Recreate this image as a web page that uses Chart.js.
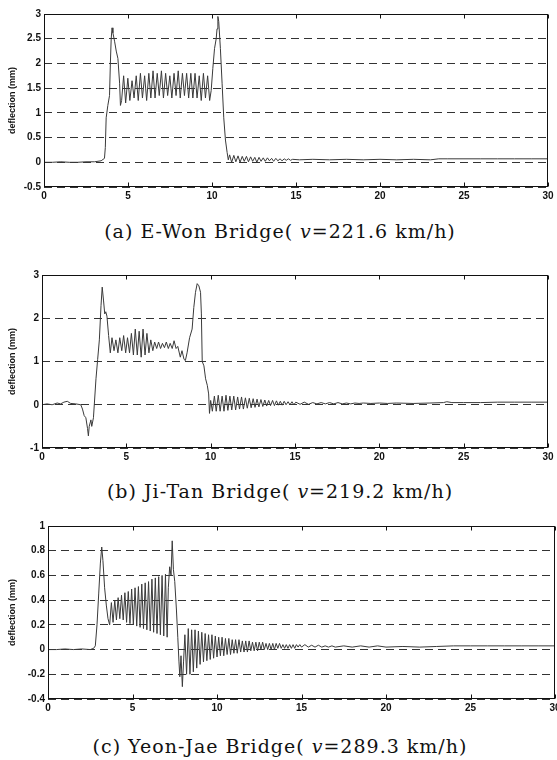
<!DOCTYPE html>
<html>
<head>
<meta charset="utf-8">
<script src="https://cdn.jsdelivr.net/npm/chart.js@4.4.1/dist/chart.umd.min.js"></script>
<style>
  html, body { margin: 0; padding: 0; background: #fff; }
  body { width: 557px; height: 760px; position: relative; overflow: hidden; }
  canvas { position: absolute; left: 0; }
  .caption {
    position: absolute; left: 0; width: 560px; text-align: center;
    font-family: "DejaVu Serif", serif; font-size: 19px; letter-spacing: 1px;
    line-height: 22px; color: #111;
  }
  .caption i { font-style: italic; }
</style>
</head>
<body>
<canvas id="chartA" width="557" height="205" style="top:0px"></canvas>
<canvas id="chartB" width="557" height="206" style="top:260px"></canvas>
<canvas id="chartC" width="570" height="207" style="top:510px"></canvas>
<div class="caption" id="capA" style="top:220px"></div>
<div class="caption" id="capB" style="top:480px"></div>
<div class="caption" id="capC" style="top:735px"></div>

<script>
// time axis (s) and deflection ticks (mm)
const xTicks = [0, 5, 10, 15, 20, 25, 30];
const yTicksA = [-0.5, 0, 0.5, 1, 1.5, 2, 2.5, 3];
const yTicksB = [-1, 0, 1, 2, 3];
const yTicksC = [-0.4, -0.2, 0, 0.2, 0.4, 0.6, 0.8, 1];

const captions = [
  ["(a) E-Won Bridge( ", "v", "=221.6 km/h)"],
  ["(b) Ji-Tan Bridge( ", "v", "=219.2 km/h)"],
  ["(c) Yeon-Jae Bridge( ", "v", "=289.3 km/h)"]
];

const eWonTrace = [
  [0,0],[0.5,0],[1,0.01],[1.5,0],[2,0],[2.5,0.01],[3,0.01],[3.4,0.03],[3.6,0.08],
  [3.65,0.3],[3.7,0.9],[3.8,1.15],[3.9,1.35],[3.95,2.0],[4.0,2.5],[4.05,2.72],[4.1,2.62],
  [4.2,2.45],[4.3,2.25],[4.4,2.1],[4.5,1.6],[4.55,1.15],
  [4.62,1.25],[4.74,1.75],[4.86,1.2],[4.99,1.7],[5.11,1.25],[5.24,1.65],[5.36,1.3],[5.49,1.75],
  [5.61,1.25],[5.74,1.8],[5.86,1.3],[5.99,1.75],[6.11,1.25],[6.24,1.8],[6.36,1.3],[6.49,1.85],
  [6.61,1.3],[6.74,1.8],[6.86,1.35],[6.99,1.85],[7.11,1.3],[7.24,1.8],[7.36,1.35],[7.49,1.75],
  [7.61,1.3],[7.74,1.8],[7.86,1.35],[7.99,1.85],[8.11,1.3],[8.24,1.8],[8.36,1.35],[8.49,1.8],
  [8.61,1.3],[8.74,1.8],[8.86,1.3],[8.99,1.8],[9.11,1.3],[9.24,1.75],[9.36,1.25],[9.49,1.8],
  [9.61,1.3],[9.74,1.75],[9.86,1.25],[9.95,1.45],
  [10.05,1.9],[10.15,2.3],[10.25,2.5],[10.3,2.7],[10.35,2.95],[10.4,2.85],[10.5,2.3],[10.6,1.6],
  [10.7,0.9],[10.8,0.45],[10.9,0.2],[10.97,0.05],
  [11.05,0.15],[11.17,0.0],[11.3,0.14],[11.42,0.01],[11.55,0.13],[11.67,0.0],[11.8,0.12],[11.92,0.02],
  [12.05,0.12],[12.17,0.01],[12.3,0.11],[12.42,0.02],[12.55,0.1],[12.67,0.0],[12.8,0.1],[12.92,0.02],
  [13.05,0.09],[13.17,0.02],[13.3,0.09],[13.42,0.03],[13.55,0.08],[13.67,0.02],[13.8,0.08],[13.92,0.03],
  [14.05,0.07],[14.17,0.03],[14.3,0.07],[14.42,0.04],[14.55,0.07],[14.67,0.04],[14.8,0.06],
  [15.2,0.05],[16,0.06],[17,0.05],[18,0.06],[19,0.05],[20,0.06],[21,0.05],[22,0.06],[23,0.05],
  [23.5,0.07],[24,0.07],[25,0.07],[26,0.07],[27,0.07],[28,0.07],[29,0.07],[30,0.07]
];

const jiTanTrace = [
  [0,0],[0.3,0.02],[0.6,0.0],[0.9,0.04],[1.1,0.02],[1.3,0.06],[1.5,0.08],[1.7,0.03],[2.0,0.02],
  [2.3,0.0],[2.4,-0.1],[2.5,-0.25],[2.6,-0.3],[2.7,-0.55],[2.75,-0.72],[2.8,-0.5],[2.9,-0.35],
  [2.95,-0.5],[3.05,-0.3],[3.1,0.0],[3.2,0.6],[3.3,1.05],[3.4,1.5],[3.5,2.3],[3.57,2.72],
  [3.65,2.4],[3.72,2.1],[3.78,2.15],[3.85,2.05],[3.95,1.6],[4.05,1.2],
  [4.15,1.55],[4.27,1.25],[4.38,1.5],[4.5,1.2],[4.61,1.55],[4.73,1.25],[4.84,1.6],[4.96,1.2],
  [5.07,1.55],[5.19,1.2],[5.3,1.65],[5.42,1.15],[5.53,1.75],[5.65,1.15],[5.76,1.7],[5.88,1.1],
  [5.99,1.75],[6.11,1.15],[6.22,1.65],[6.34,1.2],[6.45,1.5],[6.57,1.25],[6.68,1.45],[6.8,1.3],
  [6.91,1.45],[7.03,1.3],[7.14,1.42],[7.26,1.32],[7.37,1.45],[7.49,1.3],[7.6,1.42],[7.72,1.3],
  [7.83,1.48],[7.95,1.3],[8.05,1.35],[8.2,1.1],[8.3,1.25],[8.42,1.05],[8.5,1.02],[8.6,1.2],
  [8.75,1.55],[8.9,1.75],[9.0,2.25],[9.1,2.6],[9.2,2.8],[9.3,2.75],[9.4,2.6],[9.45,2.1],
  [9.5,1.0],[9.6,0.9],[9.7,0.6],[9.8,0.45],[9.88,0.25],[9.93,-0.2],[10.0,0.1],
  [10.1,-0.15],[10.22,0.2],[10.33,-0.15],[10.45,0.22],[10.56,-0.15],[10.68,0.2],[10.79,-0.15],
  [10.91,0.22],[11.02,-0.13],[11.14,0.2],[11.25,-0.12],[11.37,0.2],[11.48,-0.12],[11.6,0.18],
  [11.71,-0.1],[11.83,0.18],[11.94,-0.1],[12.06,0.16],[12.17,-0.08],[12.29,0.15],[12.4,-0.07],
  [12.52,0.14],[12.63,-0.06],[12.75,0.13],[12.86,-0.05],[12.98,0.12],[13.09,-0.04],[13.21,0.11],
  [13.32,-0.03],[13.44,0.1],[13.55,-0.02],[13.67,0.1],[13.78,-0.02],[13.9,0.09],[14.01,-0.01],
  [14.13,0.08],[14.24,-0.01],[14.36,0.08],[14.47,0.0],[14.59,0.07],[14.7,0.0],[14.82,0.07],
  [14.93,0.0],[15.05,0.06],[15.3,0.01],[15.55,0.06],[15.8,0.01],[16.05,0.05],[16.3,0.02],
  [16.55,0.05],[16.8,0.02],[17.05,0.05],[17.3,0.02],[17.55,0.05],[17.8,0.02],[18.05,0.04],
  [18.3,0.02],[18.55,0.04],[18.8,0.03],[19.05,0.04],[19.5,0.03],[20,0.04],[20.5,0.03],[21,0.04],
  [22,0.03],[23,0.04],[23.8,0.05],[24,0.07],[24.3,0.05],[25,0.05],[26,0.05],[27,0.06],[28,0.06],
  [29,0.06],[30,0.06]
];

const yeonJaeTrace = [
  [0,0],[0.5,0],[1,0.005],[1.5,0],[2,0.005],[2.5,0],[2.7,0.01],[2.8,0.03],[2.9,0.2],[3.0,0.45],
  [3.1,0.7],[3.18,0.83],[3.25,0.72],[3.35,0.5],[3.45,0.36],[3.55,0.25],
  [3.65,0.2],[3.75,0.38],[3.85,0.22],[3.95,0.4],[4.05,0.24],[4.15,0.42],[4.25,0.25],[4.35,0.44],
  [4.45,0.24],[4.55,0.46],[4.65,0.22],[4.75,0.47],[4.85,0.21],[4.95,0.49],[5.05,0.2],[5.15,0.5],
  [5.25,0.19],[5.35,0.51],[5.45,0.18],[5.55,0.53],[5.65,0.17],[5.75,0.54],[5.85,0.16],[5.95,0.55],
  [6.05,0.15],[6.15,0.57],[6.25,0.14],[6.35,0.58],[6.45,0.13],[6.55,0.59],[6.65,0.12],[6.75,0.6],
  [6.85,0.11],[6.95,0.61],[7.05,0.1],[7.12,0.5],
  [7.2,0.67],[7.28,0.6],[7.35,0.88],[7.42,0.65],[7.5,0.55],[7.6,0.32],[7.68,0.1],[7.75,-0.1],
  [7.8,-0.22],[7.87,-0.05],[7.95,-0.3],[8.02,-0.1],
  [8.1,0.12],[8.2,-0.2],[8.3,0.17],[8.4,-0.2],[8.5,0.16],[8.6,-0.18],[8.7,0.16],[8.8,-0.15],
  [8.9,0.15],[9.0,-0.12],[9.1,0.14],[9.2,-0.1],[9.3,0.13],[9.4,-0.09],[9.5,0.12],[9.6,-0.08],
  [9.7,0.12],[9.8,-0.07],[9.9,0.11],[10.0,-0.06],[10.1,0.1],[10.2,-0.05],[10.3,0.1],[10.4,-0.05],
  [10.5,0.09],[10.6,-0.04],[10.7,0.09],[10.8,-0.04],[10.9,0.08],[11.0,-0.03],[11.1,0.08],[11.2,-0.03],
  [11.3,0.08],[11.4,-0.02],[11.5,0.07],[11.6,-0.02],[11.7,0.07],[11.8,-0.02],[11.9,0.07],[12.0,-0.01],
  [12.1,0.06],[12.2,-0.01],[12.3,0.06],[12.4,-0.01],[12.5,0.06],[12.6,0.0],[12.7,0.06],[12.8,0.0],
  [12.9,0.05],[13.0,0.0],[13.1,0.05],[13.2,0.0],[13.3,0.05],[13.4,0.0],[13.5,0.05],[13.6,0.01],
  [13.7,0.05],[13.8,0.01],[13.9,0.04],[14.0,0.01],[14.1,0.04],[14.2,0.01],[14.3,0.04],[14.4,0.01],
  [14.5,0.04],[14.6,0.01],[14.7,0.04],[14.8,0.02],[14.9,0.04],[15.0,0.02],[15.2,0.04],[15.4,0.02],
  [15.6,0.035],[15.8,0.02],[16.0,0.035],[16.2,0.02],[16.4,0.03],[16.6,0.02],[16.8,0.03],[17.0,0.02],
  [17.5,0.03],[18,0.02],[18.5,0.03],[19,0.02],[19.5,0.03],[20,0.02],[21,0.025],[22,0.02],[23,0.025],
  [24,0.03],[25,0.03],[26,0.03],[27,0.03],[28,0.03],[29,0.03],[30,0.03]
];

// box around the plot area plus small inward ticks, like the matlab figure
const framePlugin = {
  id: "frame",
  afterDraw(chart) {
    const { ctx, chartArea: a, scales } = chart;
    ctx.save();
    ctx.strokeStyle = "#111";
    ctx.lineWidth = 1;
    ctx.setLineDash([]);
    const l = Math.round(a.left) + 0.5, t = Math.round(a.top) + 0.5;
    const r = Math.round(a.right) - 0.5, b = Math.round(a.bottom) - 0.5;
    ctx.strokeRect(l, t, r - l, b - t);
    ctx.beginPath();
    xTicks.forEach((v) => {
      const x = Math.round(scales.x.getPixelForValue(v)) + 0.5;
      ctx.moveTo(x, t); ctx.lineTo(x, t + 4);
      ctx.moveTo(x, b); ctx.lineTo(x, b - 4);
    });
    ctx.stroke();
    ctx.restore();
  }
};

const tickFont = { family: "'Liberation Sans', Arial, sans-serif", size: 10, weight: "bold" };

const makeChart = (id, trace, yTicks, yAxisWidth, pad) => {
  const ctx = document.getElementById(id).getContext("2d");
  return new Chart(ctx, {
    type: "line",
    data: {
      datasets: [
        {
          data: trace.map((p) => ({ x: p[0], y: p[1] })),
          borderColor: "#3a3a3a",
          borderWidth: 1,
          pointRadius: 0,
          tension: 0,
          fill: false,
        },
      ],
    },
    options: {
      responsive: false,
      animation: false,
      layout: { padding: pad },
      plugins: { legend: { display: false }, tooltip: { enabled: false } },
      scales: {
        x: {
          type: "linear",
          min: xTicks[0],
          max: xTicks[xTicks.length - 1],
          afterBuildTicks: (s) => { s.ticks = xTicks.map((v) => ({ value: v })); },
          afterFit: (s) => { s.height = 18; },
          grid: { display: false, drawTicks: false },
          border: { display: false },
          ticks: { font: tickFont, color: "#111", padding: 3, maxRotation: 0, autoSkip: false },
        },
        y: {
          min: yTicks[0],
          max: yTicks[yTicks.length - 1],
          afterBuildTicks: (s) => { s.ticks = yTicks.map((v) => ({ value: v })); },
          afterFit: (s) => { s.width = yAxisWidth; },
          grid: { color: "#333", lineWidth: 1, drawTicks: false },
          border: { display: false, dash: [8, 5] },
          ticks: {
            font: tickFont,
            color: "#111",
            padding: 3,
            autoSkip: false,
            callback: (v) => String(Number(v.toFixed(1))),
          },
          title: {
            display: true,
            text: "deflection (mm)",
            color: "#111",
            font: { family: "'Liberation Sans', Arial, sans-serif", size: 9, weight: "bold" },
            padding: { top: 7, bottom: 0 },
          },
        },
      },
    },
    plugins: [framePlugin],
  });
};

makeChart("chartA", eWonTrace, yTicksA, 44, { top: 14, right: 9, left: 0, bottom: 0 });
makeChart("chartB", jiTanTrace, yTicksB, 42, { top: 15, right: 9, left: 0, bottom: 0 });
makeChart("chartC", yeonJaeTrace, yTicksC, 48, { top: 16, right: 15, left: 0, bottom: 0 });

// captions under each plot
["capA", "capB", "capC"].forEach((id, i) => {
  const el = document.getElementById(id);
  const [pre, sym, post] = captions[i];
  el.appendChild(document.createTextNode(pre));
  const it = document.createElement("i");
  it.textContent = sym;
  el.appendChild(it);
  el.appendChild(document.createTextNode(post));
});
</script>
</body>
</html>
